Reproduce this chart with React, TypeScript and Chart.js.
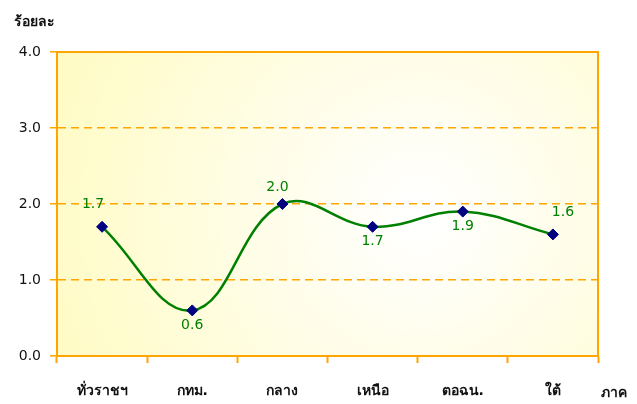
import React, { useEffect, useRef } from "react";
import { Chart, registerables } from "chart.js";

Chart.register(...registerables);

const categories = ["ทั่วราชฯ", "กทม.", "กลาง", "เหนือ", "ตอฉน.", "ใต้"];
const values = [1.7, 0.6, 2.0, 1.7, 1.9, 1.6];
const yTicks = [0, 1, 2, 3, 4];
const yTitle = "ร้อยละ";
const xTitle = "ภาค";
const labelPlacement = ["aboveLeft", "below", "above", "below", "below", "aboveRight"];

const ORANGE = "#FFA500";
const FONT = "Tahoma, 'DejaVu Sans', sans-serif";

const bgPlugin = {
  id: "bgPlugin",
  beforeDraw(chart: any) {
    const { ctx, chartArea: a } = chart;
    ctx.save();
    const g = ctx.createRadialGradient(420, 215, 10, 420, 215, 420);
    g.addColorStop(0, "#FFFFFF");
    g.addColorStop(1, "#FFFBC0");
    ctx.fillStyle = g;
    ctx.fillRect(a.left, a.top, a.right - a.left, a.bottom - a.top);
    ctx.restore();
  },
  afterDraw(chart: any) {
    const { ctx, chartArea: a } = chart;
    ctx.save();
    ctx.strokeStyle = ORANGE;
    ctx.lineWidth = 2;
    ctx.beginPath();
    ctx.moveTo(a.left, a.top);
    ctx.lineTo(a.right, a.top);
    ctx.lineTo(a.right, a.bottom);
    ctx.stroke();
    ctx.fillStyle = "#111";
    ctx.font = `bold 14px ${FONT}`;
    ctx.textAlign = "left";
    ctx.textBaseline = "alphabetic";
    ctx.fillText(yTitle, 14, 26);
    ctx.fillText(xTitle, 601, 397);
    // data labels
    const meta = chart.getDatasetMeta(0);
    ctx.fillStyle = "#008000";
    ctx.font = `14px ${FONT}`;
    ctx.textAlign = "center";
    ctx.textBaseline = "middle";
    meta.data.forEach((pt: any, i: number) => {
      const p = labelPlacement[i];
      let dx = 0;
      let dy = 0;
      if (p === "aboveLeft") { dx = -9; dy = -22; }
      else if (p === "aboveRight") { dx = 10; dy = -22; }
      else if (p === "above") { dx = -5; dy = -17; }
      else { dx = 0; dy = 15; }
      ctx.fillText(values[i].toFixed(1), pt.x + dx, pt.y + dy);
    });
    ctx.restore();
  },
};

export default function App() {
  const ref = useRef<HTMLCanvasElement>(null);
  useEffect(() => {
    const chart = new Chart(ref.current as HTMLCanvasElement, {
      type: "line",
      data: {
        labels: categories,
        datasets: [
          {
            data: values,
            borderColor: "#008000",
            borderWidth: 2.5,
            tension: 0.4,
            pointStyle: "rectRot",
            pointRadius: 5.5,
            pointBackgroundColor: "#000080",
            pointBorderColor: "#000080",
            pointBorderWidth: 1,
          },
        ],
      },
      options: {
        responsive: false,
        animation: false,
        layout: { padding: { top: 52, right: 39, left: 0, bottom: 0 } },
        plugins: { legend: { display: false }, tooltip: { enabled: false } },
        scales: {
          x: {
            offset: true,
            grid: {
              offset: true,
              drawOnChartArea: false,
              drawTicks: true,
              tickLength: 7,
              tickColor: ORANGE,
              tickWidth: 2,
            },
            border: { color: ORANGE, width: 2 },
            ticks: { color: "#111", font: { family: FONT, size: 14, weight: "bold" }, padding: 20, maxRotation: 0 },
            afterFit(s: any) { s.height = 48; },
          },
          y: {
            min: 0,
            max: 4,
            afterBuildTicks(s: any) { s.ticks = yTicks.map((v) => ({ value: v })); },
            grid: {
              color: (c: any) => (c.tick && (c.tick.value === 0 || c.tick.value === 4) ? "rgba(0,0,0,0)" : ORANGE),
              lineWidth: 1.5,
              drawTicks: true,
              tickLength: 7,
              tickColor: ORANGE,
              tickWidth: 1.5,
            },
            border: { color: ORANGE, width: 2, dash: [8, 5] },
            ticks: {
              color: "#111",
              font: { family: FONT, size: 14 },
              padding: 9,
              callback: (v: any) => Number(v).toFixed(1),
            },
            afterFit(s: any) { s.width = 57; },
          },
        },
      },
      plugins: [bgPlugin],
    });
    return () => chart.destroy();
  }, []);
  return (
    <div style={{ position: "fixed", left: 0, top: 0, width: 637, height: 404, background: "#fff" }}>
      <canvas ref={ref} width={637} height={404} />
    </div>
  );
}
